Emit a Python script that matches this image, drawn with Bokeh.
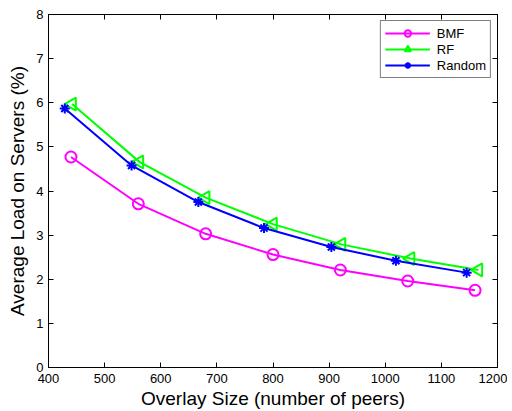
import numpy as np
from bokeh.plotting import figure
from bokeh.models import LinearAxis, Range1d, FixedTicker, CustomJSTickFormatter, Legend
from bokeh.embed import file_html
from bokeh.resources import INLINE

x_ticks = [400, 500, 600, 700, 800, 900, 1000, 1100, 1200]
y_ticks = [0, 1, 2, 3, 4, 5, 6, 7, 8]

bmf_x = [440, 560, 680, 800, 920, 1040, 1160]
bmf_y = [4.77, 3.71, 3.03, 2.56, 2.21, 1.96, 1.75]

rf_x = [442, 562, 680, 800, 922, 1045, 1166]
rf_y = [5.97, 4.66, 3.85, 3.25, 2.79, 2.47, 2.21]

rnd_x = [429, 548, 667, 784, 904, 1019, 1145]
rnd_y = [5.87, 4.58, 3.75, 3.16, 2.73, 2.42, 2.15]

FONT = "Liberation Sans"

p = figure(frame_width=449, frame_height=353, output_backend="svg", toolbar_location=None,
           x_range=Range1d(400, 1200), y_range=Range1d(0, 8),
           min_border_left=48, min_border_right=10, min_border_top=14, min_border_bottom=38)
p.xgrid.visible = False
p.ygrid.visible = False
p.outline_line_color = "black"
p.outline_line_width = 1

def style_axis(ax, labels=True):
    ax.axis_line_color = "black"
    ax.axis_line_width = 1
    ax.major_tick_in = 5
    ax.major_tick_out = 0
    ax.minor_tick_line_color = None
    ax.major_label_text_font = FONT
    ax.major_label_text_font_size = "13px"
    ax.major_label_text_color = "black"
    ax.axis_label_text_font = FONT
    ax.axis_label_text_font_size = "19px"
    ax.axis_label_text_font_style = "normal"
    ax.axis_label_text_color = "black"
    if not labels:
        ax.formatter = CustomJSTickFormatter(code="return '';")
        ax.major_label_standoff = 0

p.xaxis.ticker = FixedTicker(ticks=x_ticks)
p.yaxis.ticker = FixedTicker(ticks=y_ticks)
p.xaxis.axis_label = "Overlay Size (number of peers)"
p.yaxis.axis_label = "Average Load on Servers (%)"
style_axis(p.xaxis[0])
style_axis(p.yaxis[0])
p.xaxis.major_label_standoff = 6
p.yaxis.major_label_standoff = 5
p.xaxis.axis_label_standoff = 2
p.yaxis.axis_label_standoff = 5

top = LinearAxis(ticker=FixedTicker(ticks=x_ticks))
style_axis(top, labels=False)
p.add_layout(top, "above")
right = LinearAxis(ticker=FixedTicker(ticks=y_ticks))
style_axis(right, labels=False)
p.add_layout(right, "right")

lw = 2
r1 = p.line(bmf_x, bmf_y, line_color="#FF00FF", line_width=lw)
m1 = p.scatter(bmf_x, bmf_y, marker="circle", size=11, fill_color=None, line_color="#FF00FF", line_width=2)
r2 = p.line(rf_x, rf_y, line_color="#00FF00", line_width=lw)
m2 = p.scatter(rf_x, rf_y, marker="triangle", angle=np.pi / 2, size=13, fill_color=None, line_color="#00FF00", line_width=2)
r3 = p.line(rnd_x, rnd_y, line_color="#0000FF", line_width=lw)
m3 = p.scatter(rnd_x, rnd_y, marker="asterisk", size=10, line_color="#0000FF", line_width=2)

legend = Legend(items=[("BMF", [r1, m1]), ("RF", [r2, m2]), ("Random", [r3, m3])],
                location="top_right")
legend.label_text_font = FONT
legend.label_text_font_size = "13px"
legend.label_text_color = "black"
legend.border_line_color = "black"
legend.border_line_width = 1
legend.padding = 4
legend.margin = 6
legend.spacing = 0
legend.label_height = 16
legend.glyph_height = 16
legend.glyph_width = 45
legend.label_standoff = 7
legend.background_fill_alpha = 1
p.add_layout(legend, "center")

open("out.html", "w").write(file_html(p, INLINE))
